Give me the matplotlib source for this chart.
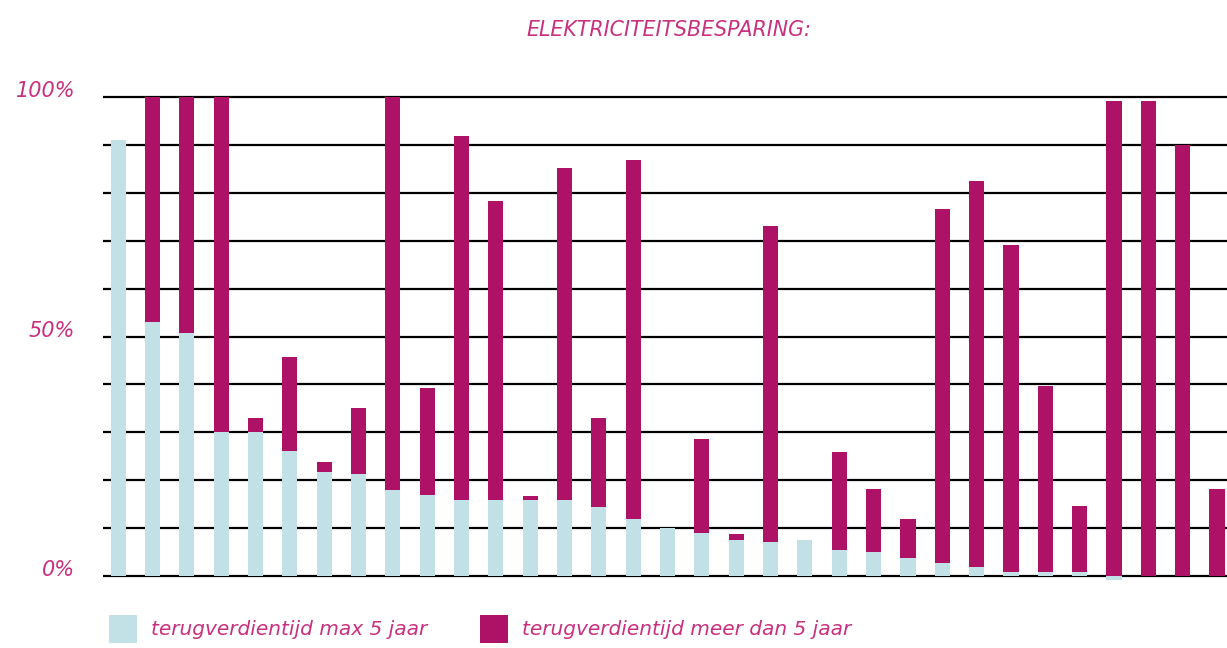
import numpy as np
import matplotlib.pyplot as plt
from matplotlib.patches import Patch

plt.rcParams['font.family'] = ['DejaVu Sans']

# share of savings, per measure (%)
max5 = [91.0, 53.1, 50.8, 30.0, 30.0, 26.0, 21.8, 21.2, 18.0, 17.0,
        15.8, 15.8, 15.8, 15.8, 14.5, 12.0, 10.0, 8.9, 7.6, 7.2,
        7.6, 5.5, 5.1, 3.7, 2.8, 1.8, 0.9, 0.9, 0.9, -0.9,
        0.0, 0.0, 0.0]
meer5 = [0.0, 46.9, 49.2, 70.0, 3.0, 19.8, 2.1, 13.9, 82.0, 22.3,
         76.1, 62.4, 1.0, 69.4, 18.5, 74.9, 0.0, 19.8, 1.1, 65.9,
         0.0, 20.3, 13.1, 8.3, 73.9, 80.7, 68.3, 38.8, 13.8, 99.2,
         99.2, 90.0, 18.2]
label_max = 'terugverdientijd max 5 jaar'
label_meer = 'terugverdientijd meer dan 5 jaar'

light = '#c1e1e7'
magenta = '#ae1266'
pink = '#c9307f'

max5 = np.array(max5)
meer5 = np.array(meer5)
x = np.arange(len(max5))

fig = plt.figure(figsize=(12.27, 6.48), dpi=100)
ax = fig.add_axes([0.084, 0.0889, 0.916, 0.7836])

for y in range(0, 101, 10):
    ax.axhline(y, color='black', lw=1.6, zorder=1)

ax.bar(x, max5, width=0.44, color=light, zorder=2)
ax.bar(x, meer5, width=0.44, bottom=np.clip(max5, 0, None), color=magenta, zorder=2)

ax.set_xlim(-0.437, 32.29)
ax.set_ylim(-3, 103)
ax.set_xticks([])
ax.set_yticks([0, 50, 100], labels=['0%', '50%', '100%'])
ax.tick_params(axis='y', length=0, pad=20, labelsize=15, labelcolor=pink)
for t in ax.get_yticklabels():
    t.set_fontstyle('italic')
    t.set_verticalalignment('baseline')
for s in ax.spines.values():
    s.set_visible(False)

fig.text(0.545, 0.953, 'ELEKTRICITEITSBESPARING:', color=pink, fontsize=14.8,
         style='italic', ha='center', va='center')

handles = [Patch(facecolor=light, label=label_max),
           Patch(facecolor=magenta, label=label_meer)]
fig.legend(handles=handles, loc='lower left', bbox_to_anchor=(0.074, -0.02),
           ncol=2, frameon=False, handlelength=1.4, handleheight=1.75,
           columnspacing=2.6, handletextpad=0.7, labelcolor=pink,
           prop={'size': 14.5, 'style': 'italic'})

fig.savefig('out.png', dpi=100)
